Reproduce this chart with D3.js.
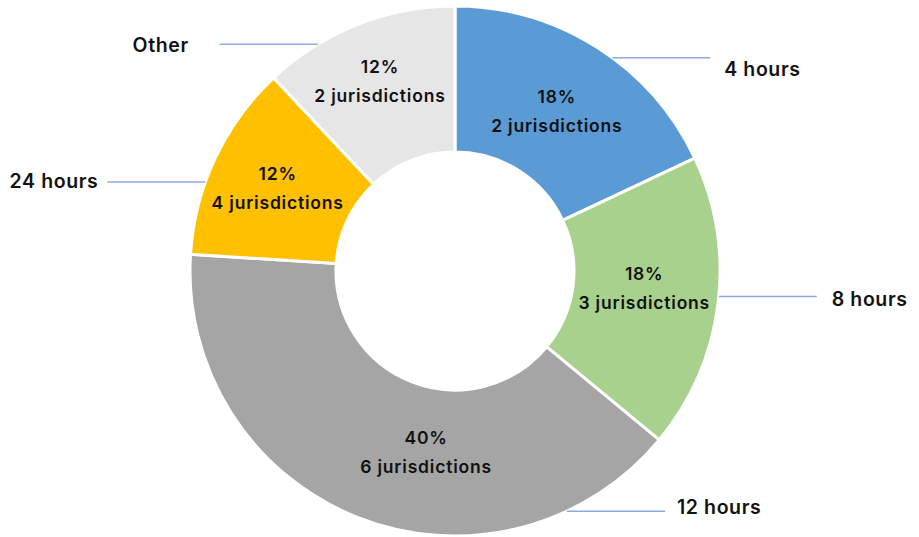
<!DOCTYPE html>
<html>
<head>
<meta charset="utf-8">
<script src="https://cdn.jsdelivr.net/npm/d3@7"></script>
<style>
  body { margin: 0; background: #fff; }
  text { font-family: Inter, "Open Sans", sans-serif; font-weight: 600; fill: #111; }
</style>
</head>
<body>
<div id="wrap"></div>
<script>
// data
var categories = ["4 hours", "8 hours", "12 hours", "24 hours", "Other"],
    percents = [18, 18, 40, 12, 12],
    jurisdictions = [2, 3, 6, 4, 2],
    colors = ["#5B9BD5", "#A9D18E", "#A5A5A5", "#FFC000", "#E7E6E6"];

// label layout: rim angle of the leader (deg, clockwise from top), gaps and nudges
var leaderAngle = [36.4, 95.5, 155, 289.6, 328.8],
    labelGap = [14, 15, 12, 9, 31],
    labelNudge = [11, 3, -4, -1, 1],
    innerRadius = [190, 190, 183, 196, 204],
    innerShift = [0, -2, -12.5, 0, 0];

var width = 919, height = 537,
    cx = 455, cy = 271,
    outerR = 265, innerR = 119,
    lineLen = 98;

var svg = d3.select('#wrap').append('svg')
    .attr('width', width)
    .attr('height', height);

var g = svg.append('g')
    .attr('transform', 'translate(' + cx + ',' + cy + ')');

var data = categories.map(function(c, i) {
  return {name: c, pct: percents[i], n: jurisdictions[i], color: colors[i], i: i};
});

var pie = d3.pie().sort(null).value(function(d) { return d.pct; });
var arc = d3.arc().innerRadius(innerR).outerRadius(outerR);

var slices = pie(data);

g.selectAll('path.slice')
  .data(slices)
  .enter().append('path')
    .attr('class', 'slice')
    .attr('d', arc)
    .style('fill', function(d) { return d.data.color; })
    .style('stroke', '#fff')
    .style('stroke-width', 3);

// inside labels
function labelPos(d) {
  var i = d.data.i,
      a = (d.startAngle + d.endAngle) / 2 + innerShift[i] * Math.PI / 180,
      r = innerRadius[i];
  return [r * Math.sin(a), -r * Math.cos(a)];
}

var inner = g.selectAll('g.inlabel')
  .data(slices)
  .enter().append('g')
    .attr('class', 'inlabel')
    .attr('transform', function(d) { return 'translate(' + labelPos(d) + ')'; });

inner.append('text')
  .attr('text-anchor', 'middle')
  .attr('y', -14)
  .attr('dy', '0.35em')
  .style('font-size', '17.5px')
  .style('letter-spacing', '0.8px')
  .text(function(d) { return d.data.pct + '%'; });

inner.append('text')
  .attr('text-anchor', 'middle')
  .attr('y', 15)
  .attr('dy', '0.35em')
  .style('font-size', '17.5px')
  .style('letter-spacing', '0.8px')
  .text(function(d) { return d.data.n + ' jurisdictions'; });

// leader lines + outside labels
var outer = g.selectAll('g.outlabel')
  .data(slices)
  .enter().append('g')
    .attr('class', 'outlabel');

function rim(i) {
  var a = leaderAngle[i] * Math.PI / 180;
  return [outerR * Math.sin(a), -outerR * Math.cos(a)];
}
function side(i) { return leaderAngle[i] < 180 ? 1 : -1; }

outer.append('line')
  .attr('x1', function(d) { return rim(d.data.i)[0]; })
  .attr('y1', function(d) { return rim(d.data.i)[1]; })
  .attr('x2', function(d) { return rim(d.data.i)[0] + side(d.data.i) * lineLen; })
  .attr('y2', function(d) { return rim(d.data.i)[1]; })
  .style('stroke', '#8FAADC')
  .style('stroke-width', 1.5);

outer.append('text')
  .attr('x', function(d) { var i = d.data.i; return rim(i)[0] + side(i) * (lineLen + labelGap[i]); })
  .attr('y', function(d) { return rim(d.data.i)[1] + labelNudge[d.data.i]; })
  .attr('dy', '0.35em')
  .attr('text-anchor', function(d) { return side(d.data.i) > 0 ? 'start' : 'end'; })
  .style('font-size', '19.5px')
  .style('letter-spacing', '0.6px')
  .text(function(d) { return d.data.name; });
</script>
</body>
</html>
